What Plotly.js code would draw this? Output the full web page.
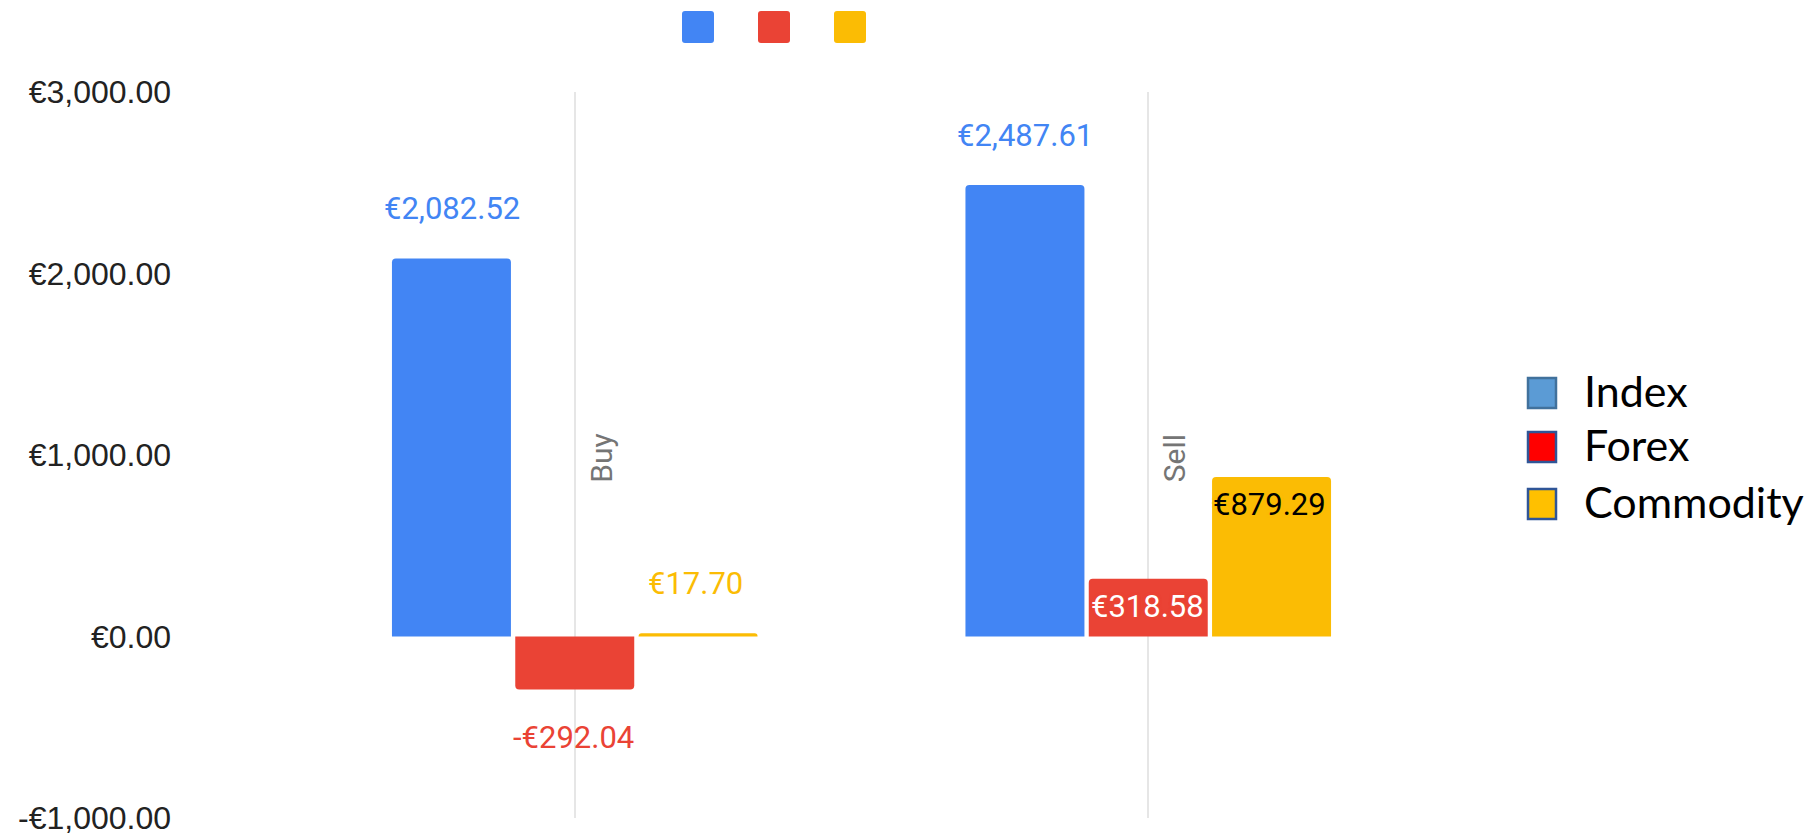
<!DOCTYPE html>
<html>
<head>
<meta charset="utf-8">
<script src="https://cdn.plot.ly/plotly-3.0.1.min.js"></script>
<style>
  html, body { margin: 0; padding: 0; background: #ffffff; }
  #chart { width: 1819px; height: 835px; }
</style>
</head>
<body>
<div id="chart"></div>
<script>
// ---- data ----
const categories = ['Buy', 'Sell'];
const seriesNames = ['Index', 'Forex', 'Commodity'];
const indexVals = [2082.52, 2487.61];
const forexVals = [-292.04, 318.58];
const commodityVals = [17.70, 879.29];
const yTickVals = [-1000, 0, 1000, 2000, 3000];
const yTickText = ['-€1,000.00', '€0.00', '€1,000.00', '€2,000.00', '€3,000.00'];

// ---- style ----
const barColors = ['#4285f4', '#ea4335', '#fbbc04'];
const legendFill = ['#5b9bd5', '#ff0000', '#ffc000'];
const legendBorder = ['#41719c', '#2f5597', '#2f5597'];
const labelPlacement = [['outside', 'outside'], ['outside', 'inside'], ['outside', 'inside']];
const insideLabelColor = ['#ffffff', '#ffffff', '#000000'];
const seriesVals = [indexVals, forexVals, commodityVals];
const slotShift = [-123, -1, 121];

const PLOT_L = 288, PLOT_W = 1147, PLOT_B = 818, PLOT_H = 726;
const px2x = p => (p - PLOT_L) / PLOT_W;
const px2y = p => (PLOT_B - p) / PLOT_H;

function fmtEuro(v) {
  const s = Math.abs(v).toLocaleString('en-US', {minimumFractionDigits: 2, maximumFractionDigits: 2});
  return (v < 0 ? '-€' : '€') + s;
}

const traces = seriesVals.map((vals, i) => ({
  type: 'bar',
  name: seriesNames[i],
  x: categories,
  y: vals,
  marker: {color: barColors[i]},
  showlegend: false,
  hoverinfo: 'x+y'
}));

const annotations = [];
seriesVals.forEach((vals, i) => {
  vals.forEach((v, j) => {
    const inside = labelPlacement[i][j] === 'inside';
    const a = {
      x: categories[j], xref: 'x', y: v, yref: 'y',
      xshift: slotShift[i],
      text: fmtEuro(v),
      showarrow: false,
      xanchor: 'center', yanchor: 'middle',
      font: {family: 'Roboto', size: 31, color: inside ? insideLabelColor[i] : barColors[i]}
    };
    if (inside) {
      a.yshift = v >= 0 ? -28 : 28;
      const c = barColors[i];
      a.font.shadow = `-2px -2px 1px ${c}, 2px -2px 1px ${c}, -2px 2px 1px ${c}, 2px 2px 1px ${c}, 0 0 3px ${c}`;
    } else {
      a.yshift = v >= 0 ? 50 : -48;
    }
    annotations.push(a);
  });
});

// category labels drawn vertically inside the plot
categories.forEach(c => {
  annotations.push({
    x: c, xref: 'x', xshift: 26, y: px2y(458), yref: 'paper',
    text: c, textangle: -90, showarrow: false,
    xanchor: 'center', yanchor: 'middle',
    font: {family: 'Roboto', size: 30, color: '#757575'}
  });
});

// right-hand legend
const legendPy = [393, 447, 504];
const shapes = [];
seriesNames.forEach((n, i) => {
  annotations.push({
    x: px2x(1582), xref: 'paper', y: px2y(legendPy[i] - 3), yref: 'paper',
    text: n, showarrow: false, xanchor: 'left', yanchor: 'middle',
    font: {family: 'Lato', size: 43, color: '#000000'}
  });
  shapes.push({
    type: 'rect', xref: 'paper', yref: 'paper',
    x0: px2x(1528), x1: px2x(1556), y0: px2y(legendPy[i] + 15), y1: px2y(legendPy[i] - 15),
    fillcolor: legendFill[i], line: {color: legendBorder[i], width: 2.5}
  });
});

// top colour chips (rounded)
function roundedRectPath(x0, x1, y0, y1, rx, ry) {
  return `M${x0 + rx},${y0} L${x1 - rx},${y0} Q${x1},${y0} ${x1},${y0 + ry} L${x1},${y1 - ry} Q${x1},${y1} ${x1 - rx},${y1} L${x0 + rx},${y1} Q${x0},${y1} ${x0},${y1 - ry} L${x0},${y0 + ry} Q${x0},${y0} ${x0 + rx},${y0} Z`;
}
const chipX = [[682, 714], [758, 790], [834, 866]];
chipX.forEach((px, i) => {
  shapes.push({
    type: 'path', xref: 'paper', yref: 'paper',
    path: roundedRectPath(px2x(px[0]), px2x(px[1]), px2y(43), px2y(11), 3 / PLOT_W, 3 / PLOT_H),
    fillcolor: barColors[i], line: {width: 0}
  });
});

const layout = {
  width: 1819, height: 835,
  margin: {l: PLOT_L, r: 1819 - PLOT_L - PLOT_W, t: PLOT_B - PLOT_H, b: 835 - PLOT_B},
  paper_bgcolor: '#ffffff', plot_bgcolor: '#ffffff',
  barmode: 'group', bargap: 0.355, bargroupgap: 0.035, barcornerradius: 4,
  showlegend: false,
  xaxis: {
    type: 'category', range: [-0.5, 1.5],
    showticklabels: false, showgrid: true, gridcolor: '#e6e6e6', gridwidth: 2,
    zeroline: false, showline: false, ticks: ''
  },
  yaxis: {
    range: [-1000, 3000], tickvals: yTickVals, ticktext: yTickText,
    showgrid: false, zeroline: false, showline: false, ticks: '',
    ticklabelstandoff: 116, ticklabeloverflow: 'allow',
    tickfont: {family: 'Liberation Sans', size: 32, color: '#222222'}
  },
  annotations: annotations,
  shapes: shapes
};

Plotly.newPlot('chart', traces, layout, {displayModeBar: false, staticPlot: true});
</script>
</body>
</html>
